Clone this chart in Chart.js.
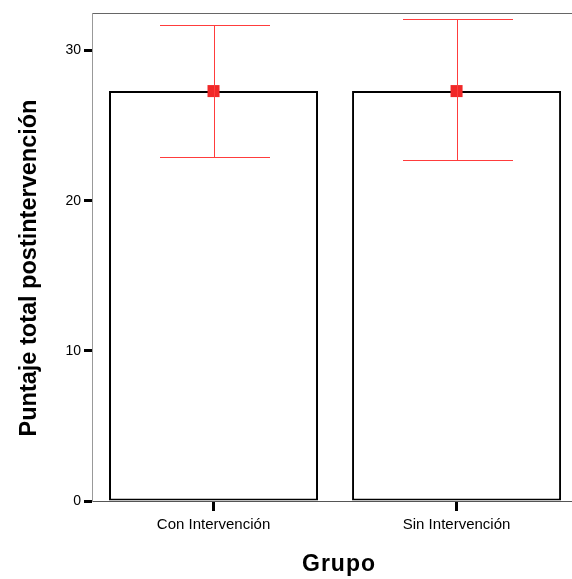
<!DOCTYPE html>
<html>
<head>
<meta charset="utf-8">
<script src="https://cdn.jsdelivr.net/npm/chart.js@4"></script>
<style>
  html, body { margin: 0; padding: 0; background: #fff; }
  #wrap { width: 572px; height: 579px; }
</style>
</head>
<body>
<div id="wrap"><canvas id="grafico"></canvas></div>
<script>
// datos
var grupos = ['Con Intervención', 'Sin Intervención'];
var posiciones = [1, 2];
var medias = [27.3, 27.3];
var limiteInferior = [22.93, 22.69];
var limiteSuperior = [31.71, 32.07];
var ticksY = [0, 10, 20, 30];
var tituloX = 'Grupo';
var tituloY = 'Puntaje total postintervención';

var puntos = posiciones.map(function(p, i) { return { x: p, y: medias[i] }; });

// barras de error, marco y titulos
var errorBars = {
  id: 'errorBars',
  afterDatasetsDraw: function(chart) {
    var ctx = chart.ctx, x = chart.scales.x, y = chart.scales.y;
    ctx.save();
    ctx.fillStyle = 'rgb(255,60,60)';
    for (var i = 0; i < posiciones.length; i++) {
      var cx = Math.round(x.getPixelForValue(posiciones[i]));
      var top = Math.round(y.getPixelForValue(limiteSuperior[i]));
      var bot = Math.round(y.getPixelForValue(limiteInferior[i]));
      ctx.fillRect(cx, top, 1, bot - top);
      ctx.fillRect(cx - 54, top, 110, 1);
      ctx.fillRect(cx - 54, bot, 110, 1);
    }
    ctx.restore();
  },
  afterDraw: function(chart) {
    var ctx = chart.ctx, a = chart.chartArea;
    ctx.save();
    // marco gris (arriba e izquierda)
    ctx.fillStyle = '#666';
    ctx.fillRect(a.left, a.top, a.right - a.left, 1);
    ctx.fillStyle = '#999';
    ctx.fillRect(a.left, a.top, 1, a.bottom - a.top);
    // titulos
    ctx.fillStyle = '#000';
    ctx.font = 'bold 23px "Liberation Sans"';
    ctx.textAlign = 'center';
    ctx.textBaseline = 'middle';
    if ('letterSpacing' in ctx) ctx.letterSpacing = '1px';
    ctx.fillText(tituloX, 339, 565);
    ctx.translate(30, 268);
    ctx.rotate(-Math.PI / 2);
    ctx.font = 'bold 23.5px "Liberation Sans"';
    if ('letterSpacing' in ctx) ctx.letterSpacing = '0px';
    ctx.fillText(tituloY, 0, 0);
    ctx.restore();
  }
};

var getElemGrafico = document.getElementById('grafico').getContext('2d');
var miGrafico = new Chart(getElemGrafico, {
  type: 'bar',
  data: {
    datasets: [
      {
        type: 'line',
        data: puntos,
        showLine: false,
        pointStyle: 'rect',
        pointRadius: 8.5,
        pointBackgroundColor: 'rgb(240,40,40)',
        pointBorderWidth: 0,
        order: 0
      },
      {
        data: puntos,
        backgroundColor: '#fff',
        borderColor: '#000',
        borderWidth: 2,
        borderSkipped: false,
        barPercentage: 0.86,
        categoryPercentage: 1,
        order: 1
      }
    ]
  },
  options: {
    responsive: true,
    maintainAspectRatio: false,
    animation: false,
    layout: { autoPadding: false, padding: { top: 13, right: 0, left: 0, bottom: 0 } },
    plugins: { legend: { display: false }, tooltip: { enabled: false } },
    scales: {
      x: {
        type: 'linear',
        offset: false,
        min: 0.5,
        max: 2.475,
        afterBuildTicks: function(s) { s.ticks = posiciones.map(function(v) { return { value: v }; }); },
        grid: { offset: false, drawOnChartArea: false, tickLength: 10, tickWidth: 3, tickColor: '#000' },
        border: { color: '#555' },
        ticks: {
          color: '#000', font: { family: 'Liberation Sans', size: 15 }, padding: 5, maxRotation: 0,
          callback: function(v, i) { return grupos[i]; }
        },
        afterFit: function(s) { s.height = 78; }
      },
      y: {
        min: 0,
        max: 32.5,
        afterBuildTicks: function(s) { s.ticks = ticksY.map(function(v) { return { value: v }; }); },
        grid: { drawOnChartArea: false, tickLength: 8, tickWidth: 3, tickColor: '#000' },
        border: { color: '#999' },
        ticks: { color: '#000', font: { family: 'Liberation Sans', size: 14 }, padding: 3 },
        afterFit: function(s) { s.width = 92; }
      }
    }
  },
  plugins: [errorBars]
});
</script>
</body>
</html>
